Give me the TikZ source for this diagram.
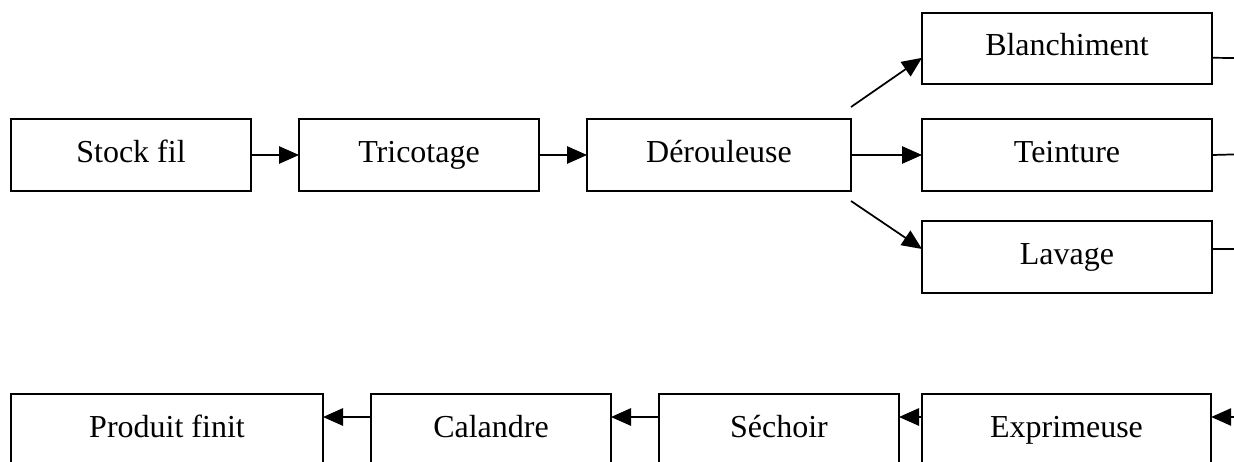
\documentclass[tikz,border=0pt]{standalone}
\usepackage{fontspec}
\setmainfont{Liberation Serif}
\usetikzlibrary{arrows.meta,calc}
\begin{document}
\begin{tikzpicture}[x=0.75pt,y=-0.75pt,
  box/.style={draw,line width=1.3pt,inner sep=0pt,outer sep=0pt,
    minimum height=54pt,text height=16.5pt,text depth=6pt,
    font=\fontsize{24}{28}\selectfont},
  conn/.style={line width=1.3pt,-{Triangle[length=15pt,width=13pt]}},
  stub/.style={line width=1.3pt}]
\useasboundingbox (0,0) rectangle (1234,461);
\clip (0,0) rectangle (1234,461);
\node[box,minimum width=180pt] (stock) at (131,155) {Stock fil};
\node[box,minimum width=180pt] (trico) at (419,155) {Tricotage};
\node[box,minimum width=198pt] (derou) at (719,155) {Dérouleuse};
\node[box,minimum width=217.5pt,minimum height=53.5pt] (blanc) at (1067,48.5) {Blanchiment};
\node[box,minimum width=217.5pt] (teint) at (1067,155) {Teinture};
\node[box,minimum width=217.5pt] (lav) at (1067,257) {Lavage};
\node[box,minimum width=234pt] (prod) at (167,430) {Produit finit};
\node[box,minimum width=180pt] (cal) at (491,430) {Calandre};
\node[box,minimum width=180pt] (sech) at (779,430) {Séchoir};
\node[box,minimum width=217pt] (expr) at (1066.5,430) {Exprimeuse};
\coordinate (d1) at (851,107);
\coordinate (d2) at (851,201);
\coordinate (r1) at (1250,58);
\coordinate (r2) at (1250,154);
\coordinate (r3) at (1250,249);
\coordinate (r4) at (1250,417);
\draw[conn] (stock) -- (trico);
\draw[conn] (trico) -- (derou);
\draw[conn] (derou) -- (teint);
\draw[conn] (d1) -- ($(blanc.north west)+(0,45)$);
\draw[conn] (d2) -- ($(lav.north west)+(0,28)$);
\draw[stub] ($(blanc.north east)+(0,45)$) -- (r1);
\draw[stub] (teint.east) -- (r2);
\draw[stub] ($(lav.north east)+(0,28)$) -- (r3);
\draw[conn] (r4) -- ($(expr.north east)+(0,23)$);
\draw[conn] ($(expr.north west)+(0,23)$) -- ($(sech.north east)+(0,23)$);
\draw[conn] ($(sech.north west)+(0,23)$) -- ($(cal.north east)+(0,23)$);
\draw[conn] ($(cal.north west)+(0,23)$) -- ($(prod.north east)+(0,23)$);
\end{tikzpicture}
\end{document}
